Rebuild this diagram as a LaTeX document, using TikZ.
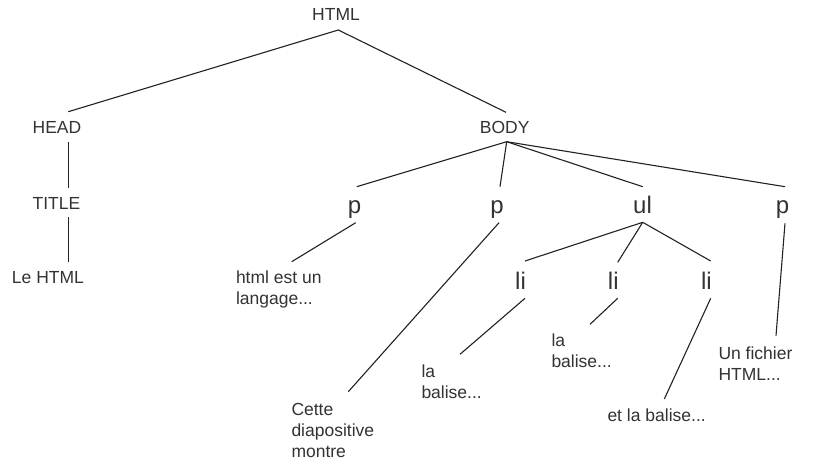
\documentclass[tikz,border=0pt]{standalone}
\usepackage{fontspec}
\setmainfont{Liberation Sans}
\definecolor{txt}{HTML}{333333}
\definecolor{ln}{HTML}{222222}
\begin{document}
\begin{tikzpicture}[x=1pt,y=-1pt,
  lbl/.style={inner sep=0pt,outer sep=0pt,text=txt,font=\fontsize{17.5}{21}\selectfont,anchor=base},
  txtl/.style={lbl,align=left,anchor=base west},
  tag/.style={inner sep=0pt,outer sep=0pt,text=txt,font=\fontsize{24}{28}\selectfont,anchor=base},
  edge/.style={draw=ln,line width=1.1pt}]
\useasboundingbox[fill=white] (0,0) rectangle (813,461);
% nodes (multi-line nodes are placed by the baseline of their last line)
\node[lbl] (html) at (336,20.7) {HTML};
\node[lbl] (head) at (57,133.7) {HEAD};
\node[lbl] (body) at (504.7,133.7) {BODY};
\node[lbl] (title) at (56.5,209.3) {TITLE};
\node[txtl] (lehtml) at (12,283.3) {Le HTML};
\node[tag] (p1) at (354.5,213.5) {p};
\node[tag] (p2) at (497,213.5) {p};
\node[tag] (ul) at (642.5,213.5) {ul};
\node[tag] (p4) at (782.5,213.5) {p};
\node[tag] (li1) at (520.5,289.3) {li};
\node[tag] (li2) at (613.3,289.3) {li};
\node[tag] (li3) at (706.4,289.3) {li};
\node[txtl] (t1) at (236,304.3) {html est un\\langage...};
\node[txtl] (t2) at (291.5,457) {Cette\\diapositive\\montre};
\node[txtl] (t3) at (421.5,398.3) {la\\balise...};
\node[txtl] (t4) at (551.5,367.7) {la\\balise...};
\node[txtl] (t5) at (607.5,421.7) {et la balise...};
\node[txtl] (t6) at (718.5,380) {Un fichier\\HTML...};
% connectors
\draw[edge] ([shift={(11.3,-22)}]head.base) -- ([shift={(2.3,9.3)}]html.base) -- ([shift={(1.3,-21.4)}]body.base);
\draw[edge] ([shift={(11.3,8)}]head.base) -- ([shift={(11.8,-21)}]title.base);
\draw[edge] ([shift={(11.8,8)}]title.base) -- ([shift={(56.3,-21.6)}]lehtml.base west);
\draw[edge] ([shift={(2,8)}]body.base) -- ([shift={(2.2,-26.8)}]p1.base);
\draw[edge] ([shift={(2,8)}]body.base) -- ([shift={(3,-26.8)}]p2.base);
\draw[edge] ([shift={(2,8)}]body.base) -- ([shift={(0.2,-26.8)}]ul.base);
\draw[edge] ([shift={(2,8)}]body.base) -- ([shift={(2.5,-26.8)}]p4.base);
\draw[edge] ([shift={(1.2,9.2)}]p1.base) -- ([shift={(55.7,-42.6)}]t1.base west);
\draw[edge] ([shift={(2,9.2)}]p2.base) -- ([shift={(56.8,-65.3)}]t2.base west);
\draw[edge] ([shift={(0.2,8.8)}]ul.base) -- ([shift={(4.5,-28.3)}]li1.base);
\draw[edge] ([shift={(0.2,8.8)}]ul.base) -- ([shift={(4.4,-27)}]li2.base);
\draw[edge] ([shift={(0.2,8.8)}]ul.base) -- ([shift={(4.3,-28.3)}]li3.base);
\draw[edge] ([shift={(4.5,9)}]li1.base) -- ([shift={(38.5,-44)}]t3.base west);
\draw[edge] ([shift={(4.4,9)}]li2.base) -- ([shift={(38.5,-43.4)}]t4.base west);
\draw[edge] ([shift={(4.3,9)}]li3.base) -- ([shift={(56.8,-22.7)}]t5.base west);
\draw[edge] ([shift={(2.5,9.8)}]p4.base) -- ([shift={(57.5,-44.3)}]t6.base west);
\end{tikzpicture}
\end{document}
